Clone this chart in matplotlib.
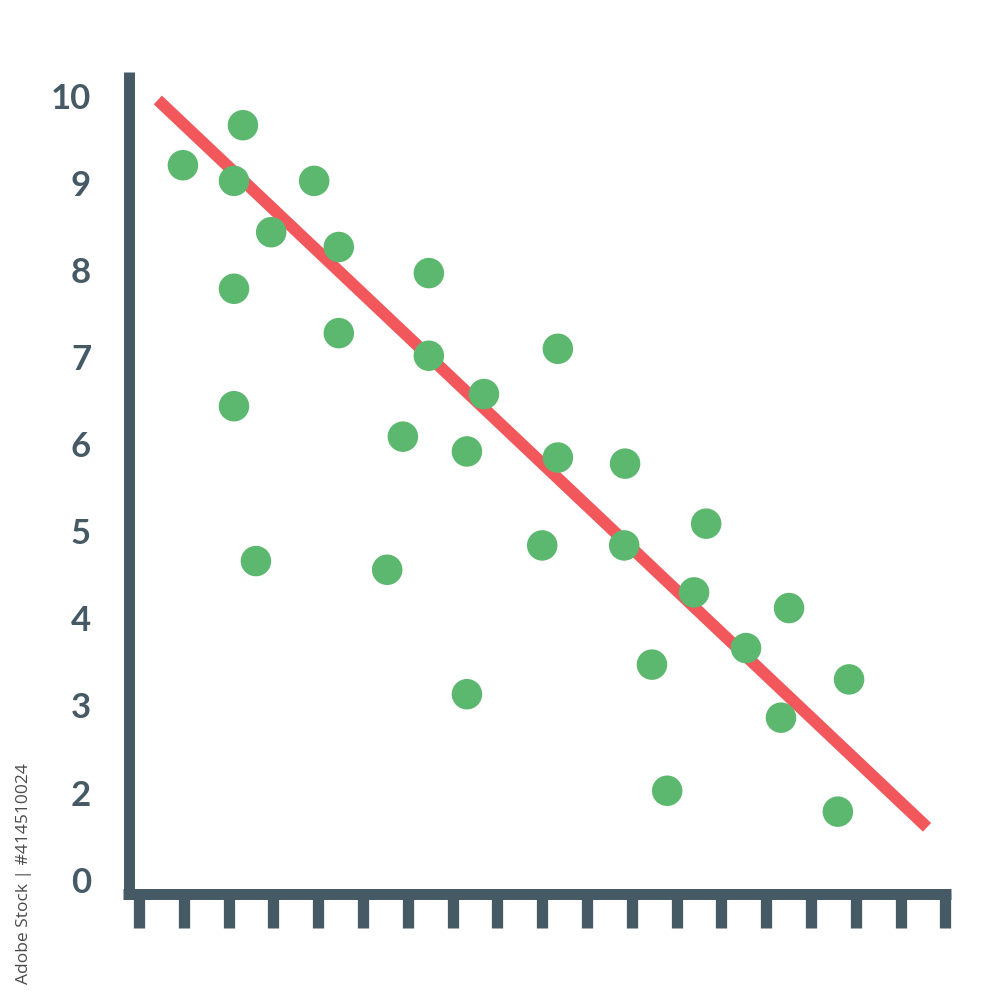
import matplotlib
matplotlib.use('Agg')
import matplotlib.pyplot as plt

# scatter points (x in tick units, y in axis units)
pts_x = [0.98, 2.32, 2.12, 3.91, 2.95, 4.46, 2.12, 6.47, 4.46, 6.47, 7.70,
         9.35, 2.12, 5.89, 7.32, 9.35, 10.85, 2.61, 5.54, 9.00, 10.83, 12.66,
         12.39, 14.51, 13.55, 11.45, 15.85, 7.32, 14.33, 11.79, 15.60]
pts_y = [9.21, 9.67, 9.03, 9.03, 8.44, 8.27, 7.79, 7.97, 7.28, 7.02, 6.58,
         7.10, 6.44, 6.09, 5.92, 5.85, 5.78, 4.66, 4.56, 4.84, 4.84, 5.09,
         4.30, 4.12, 3.66, 3.47, 3.30, 3.13, 2.86, 2.02, 1.78]

# trend line end points
line_x = [0.42, 17.59]
line_y = [9.96, 1.60]

x_ticks = list(range(19))
y_ticks = [10, 9, 8, 7, 6, 5, 4, 3, 2, 1]
y_labels = ['10', '9', '8', '7', '6', '5', '4', '3', '2', '0']

SLATE = '#465a66'
GREEN = '#5cb86e'
RED = '#f2575c'

fig = plt.figure(figsize=(10, 10), dpi=100)
ax = fig.add_axes([0, 0, 1, 1])
ax.set_xlim(-3.103, 19.219)
ax.set_ylim(-0.385, 11.109)

ax.plot(line_x, line_y, color=RED, lw=8.6, solid_capstyle='butt', zorder=2)
ax.scatter(pts_x, pts_y, s=(30.5 * 0.72) ** 2, color=GREEN, edgecolors='none', zorder=3)

for side in ['top', 'right']:
    ax.spines[side].set_visible(False)
ax.spines['left'].set_position(('data', -0.234))
ax.spines['bottom'].set_position(('data', 0.839))
ax.spines['left'].set_bounds(0.776, 10.282)
ax.spines['bottom'].set_bounds(-0.357, 18.125)
for side in ['left', 'bottom']:
    ax.spines[side].set_linewidth(7.9)
    ax.spines[side].set_color(SLATE)
    ax.spines[side].set_capstyle('butt')
    ax.spines[side].set_zorder(1)

ax.set_xticks(x_ticks)
ax.set_xticklabels([])
ax.tick_params(axis='x', direction='out', length=24.5, width=8.1, color=SLATE)

ax.set_yticks(y_ticks)
ax.set_yticklabels(y_labels, family='Lato', fontweight='bold', fontsize=25, color=SLATE)
ax.tick_params(axis='y', length=0, pad=27)

fig.text(0.024, 0.126, 'Adobe Stock | #414510024', rotation=90, ha='center', va='center',
         fontsize=12.5, color='#4a4a4a', family='Open Sans')

fig.savefig('out.png', dpi=100, facecolor='white')
